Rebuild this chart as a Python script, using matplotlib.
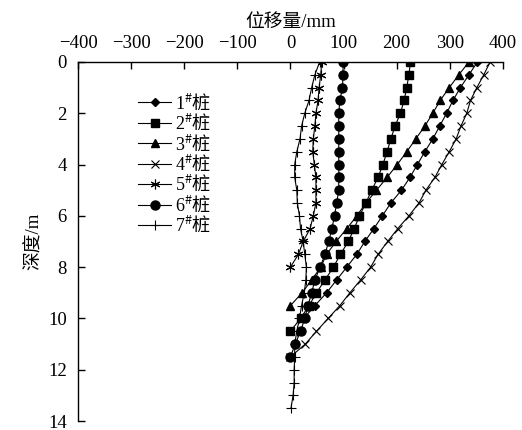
import matplotlib
matplotlib.use("Agg")
import matplotlib.pyplot as plt

plt.rcParams['font.family'] = ['Liberation Serif', 'Noto Sans CJK SC', 'DejaVu Sans']
plt.rcParams['mathtext.fontset'] = 'custom'
plt.rcParams['mathtext.rm'] = 'Noto Sans CJK SC'
plt.rcParams['mathtext.it'] = 'Liberation Serif'
plt.rcParams['mathtext.bf'] = 'Liberation Serif:bold'

# depth (m) for each pile, 0.5 m steps
d1 = [0, 0.5, 1, 1.5, 2, 2.5, 3, 3.5, 4, 4.5, 5, 5.5, 6, 6.5, 7, 7.5, 8, 8.5, 9, 9.5, 10]
p1 = [352, 336, 320, 306, 294, 281, 268, 253, 239, 225, 209, 189, 173, 157, 140, 125, 106, 87, 68, 46, 25]

d2 = [0, 0.5, 1, 1.5, 2, 2.5, 3, 3.5, 4, 4.5, 5, 5.5, 6, 6.5, 7, 7.5, 8, 8.5, 9, 9.5, 10, 10.5]
p2 = [226, 223, 219, 214, 207, 197, 189, 182, 174, 165, 153, 142, 130, 120, 109, 94, 81, 65, 49, 35, 19, 0]

d3 = [0, 0.5, 1, 1.5, 2, 2.5, 3, 3.5, 4, 4.5, 5, 5.5, 6, 6.5, 7, 7.5, 8, 8.5, 9, 9.5]
p3 = [336, 317, 299, 282, 268, 253, 236, 219, 201, 182, 162, 142, 125, 106, 86, 68, 57, 40, 22, 0]

d4 = [0, 0.5, 1, 1.5, 2, 2.5, 3, 3.5, 4, 4.5, 5, 5.5, 6, 6.5, 7, 7.5, 8, 8.5, 9, 9.5, 10, 10.5, 11, 11.5]
p4 = [376, 364, 351, 339, 332, 321, 312, 299, 285, 272, 255, 242, 223, 202, 183, 165, 151, 132, 112, 93, 71, 49, 28, 0]

d5 = [0, 0.5, 1, 1.5, 2, 2.5, 3, 3.5, 4, 4.5, 5, 5.5, 6, 6.5, 7, 7.5, 8]
p5 = [59, 57, 54, 52, 48, 46, 43, 42, 45, 48, 48, 48, 43, 37, 24, 15, 0]

d6 = [0, 0.5, 1, 1.5, 2, 2.5, 3, 3.5, 4, 4.5, 5, 5.5, 6, 6.5, 7, 7.5, 8, 8.5, 9, 9.5, 10, 10.5, 11, 11.5]
p6 = [99, 99, 98, 93, 91, 91, 91, 91, 91, 91, 91, 87, 83, 78, 72, 65, 56, 46, 40, 33, 27, 19, 9, 0]

d7 = [0, 0.5, 1, 1.5, 2, 2.5, 3, 3.5, 4, 4.5, 5, 5.5, 6, 6.5, 7, 7.5, 8, 8.5, 9, 9.5,
      10, 10.5, 11, 11.5, 12, 12.5, 13, 13.5]
p7 = [55, 46, 40, 35, 27, 21, 18, 12, 8, 8, 12, 13, 17, 19, 24, 27, 30, 29, 26, 21,
      17, 12, 8, 8, 7, 7, 5, 1]

piles = ['1', '2', '3', '4', '5', '6', '7']
labels = [n + '$^{\\#}\\mathrm{桩}$' for n in piles]

fig = plt.figure(figsize=(5.22, 4.30), dpi=100)
ax = fig.add_axes([0.1494, 0.0209, 0.814, 0.835])

lw = 0.8
ax.plot(p1, d1, color='k', lw=lw, marker='D', ms=4.5, label=labels[0])
ax.plot(p2, d2, color='k', lw=lw, marker='s', ms=6, label=labels[1])
ax.plot(p3, d3, color='k', lw=lw, marker='^', ms=6, label=labels[2])
ax.plot(p4, d4, color='k', lw=lw, marker='x', ms=5.5, mew=0.8, label=labels[3])
ax.plot(p5, d5, color='k', lw=lw, marker=(6, 2, 0), ms=7, mew=0.8, label=labels[4])
ax.plot(p6, d6, color='k', lw=lw, marker='o', ms=6.5, label=labels[5])
ax.plot(p7, d7, color='k', lw=lw, marker='+', ms=7, mew=0.8, label=labels[6])

ax.set_xlim(-400, 400)
ax.set_ylim(14, 0)
ax.set_xticks(range(-400, 401, 100))
ax.set_yticks(range(0, 15, 2))
ax.xaxis.tick_top()
ax.xaxis.set_label_position('top')
ax.spines['right'].set_visible(False)
ax.spines['bottom'].set_visible(False)
ax.spines['left'].set_linewidth(1.0)
ax.spines['top'].set_linewidth(1.0)
ax.tick_params(axis='both', direction='in', length=5, width=1.0, labelsize=13.5)
ax.tick_params(axis='x', pad=7)
ax.tick_params(axis='y', pad=8)

ax.set_xlabel('位移量/mm', fontsize=13.5, labelpad=6)
ax.set_ylabel('深度/m', fontsize=13.5, labelpad=4)

ax.legend(loc='upper left', bbox_to_anchor=(0.125, 0.935), frameon=False,
          fontsize=13, handlelength=1.8, handletextpad=0.25, labelspacing=0.02,
          borderaxespad=0)

fig.savefig('out.png', dpi=100)
